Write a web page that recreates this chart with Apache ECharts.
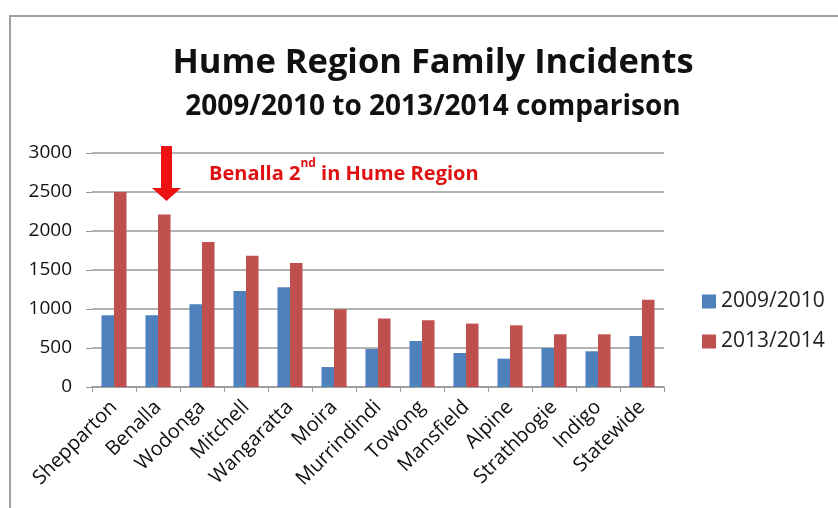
<!DOCTYPE html>
<html><head><meta charset="utf-8">
<script src="https://cdn.jsdelivr.net/npm/echarts@6/dist/echarts.min.js"></script>
<style>html,body{margin:0;padding:0;background:#fff}#c{width:838px;height:508px}</style>
</head><body><div id="c"></div>
<script>
const categories = ['Shepparton','Benalla','Wodonga','Mitchell','Wangaratta','Moira','Murrindindi','Towong','Mansfield','Alpine','Strathbogie','Indigo','Statewide'];
const series2009 = [920, 920, 1060, 1230, 1280, 256, 487, 590, 436, 364, 500, 458, 654];
const series2013 = [2500, 2212, 1860, 1684, 1590, 996, 877, 855, 813, 791, 676, 676, 1120];
const seriesNames = ['2009/2010', '2013/2014'];
const yTicks = [0, 500, 1000, 1500, 2000, 2500, 3000];

const FONT = '"Open Sans", "Noto Sans", sans-serif';
const chart = echarts.init(document.getElementById('c'));
chart.setOption({
  animation: false,
  backgroundColor: '#fff',
  title: [{
    text: 'Hume Region Family Incidents',
    left: 428, top: 41, textAlign: 'center',
    textStyle: {fontFamily: FONT, fontSize: 34.5, fontWeight: 'bold', color: '#111'}
  }, {
    text: '2009/2010 to 2013/2014 comparison',
    left: 428, top: 88, textAlign: 'center',
    textStyle: {fontFamily: FONT, fontSize: 28, fontWeight: 'bold', color: '#111'}
  }],
  legend: {
    orient: 'vertical', left: 697, top: 286,
    itemWidth: 14, itemHeight: 14, itemGap: 19,
    icon: 'rect',
    textStyle: {fontFamily: FONT, fontSize: 21, color: '#222'},
    data: seriesNames
  },
  grid: {left: 92, right: 174, top: 153, bottom: 121, containLabel: false},
  xAxis: {
    type: 'category', data: categories,
    axisLine: {lineStyle: {color: '#999', width: 1.5}},
    axisTick: {show: true, length: 5, lineStyle: {color: '#999'}},
    axisLabel: {rotate: 45, fontFamily: FONT, fontSize: 20, color: '#111', margin: 17, interval: 0}
  },
  yAxis: {
    type: 'value', min: 0, max: 3000, interval: 500,
    axisLine: {show: false},
    axisTick: {show: true, length: 6, lineStyle: {color: '#999'}},
    splitLine: {lineStyle: {color: '#999', width: 1.5}},
    axisLabel: {fontFamily: FONT, fontSize: 19, color: '#111', margin: 20,
      formatter: v => yTicks.includes(v) ? String(v) : ''}
  },
  series: [{
    name: seriesNames[0], type: 'bar', data: series2009,
    barGap: '0%', barCategoryGap: '43%',
    itemStyle: {color: '#4F81BD'}
  }, {
    name: seriesNames[1], type: 'bar', data: series2013,
    barGap: '0%', barCategoryGap: '43%',
    itemStyle: {color: '#C0504D'}
  }],
  graphic: [
    {type: 'rect', shape: {x: 10, y: 16, width: 840, height: 500},
     style: {fill: 'none', stroke: '#a0a0a0', lineWidth: 2}, silent: true, z: 100},
    {type: 'polygon', shape: {points: [[161,146],[172,146],[172,188],[181,188],[166.5,201],[152,188],[161,188]]},
     style: {fill: '#EE1111'}, z: 100},
    {type: 'text', left: 209, top: 158, z: 100,
     style: {
       text: '{a|Benalla 2}{s|nd}{a| in Hume Region}',
       rich: {
         a: {fontFamily: FONT, fontSize: 20, fontWeight: 'bold', fill: '#E01010', verticalAlign: 'bottom', lineHeight: 26},
         s: {fontFamily: FONT, fontSize: 12, fontWeight: 'bold', fill: '#E01010', verticalAlign: 'top', lineHeight: 26, padding: [0,0,12,0]}
       }
     }}
  ]
});
</script></body></html>
